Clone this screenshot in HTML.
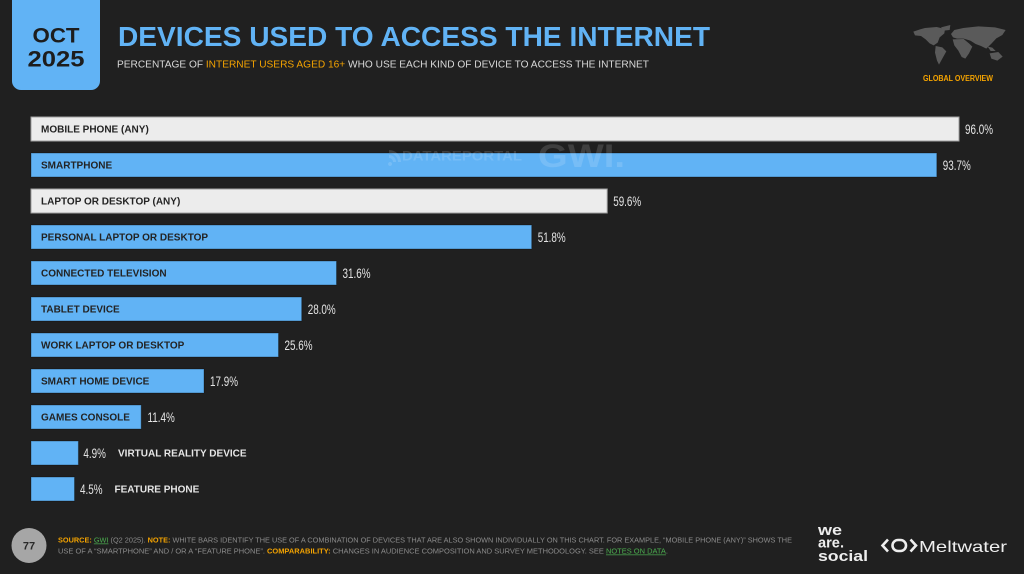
<!DOCTYPE html>
<html>
<head>
<meta charset="utf-8">
<style>
html,body{margin:0;padding:0;background:#202020;}
svg{display:block;}
text{font-family:"Liberation Sans",sans-serif;}
</style>
</head>
<body>
<svg width="1024" height="574" viewBox="0 0 1024 574" xmlns="http://www.w3.org/2000/svg">
<rect width="1024" height="574" fill="#202020"/>

<!-- Date box -->
<rect x="12" y="-12" width="88" height="102" rx="9" fill="#61b3f5"/>
<text x="56" y="42.5" text-anchor="middle" font-size="21.5" font-weight="bold" fill="#1d1d1d" textLength="47" lengthAdjust="spacingAndGlyphs">OCT</text>
<text x="56" y="66.5" text-anchor="middle" font-size="22.5" font-weight="bold" fill="#1d1d1d" textLength="57" lengthAdjust="spacingAndGlyphs">2025</text>

<!-- Title -->
<text x="118" y="46" font-size="28" font-weight="bold" fill="#61b3f5" textLength="592" lengthAdjust="spacingAndGlyphs">DEVICES USED TO ACCESS THE INTERNET</text>
<text x="117" y="67.3" font-size="10.5" fill="#d9d9d9" textLength="532" lengthAdjust="spacingAndGlyphs">PERCENTAGE OF <tspan fill="#f4a300">INTERNET USERS AGED 16+</tspan> WHO USE EACH KIND OF DEVICE TO ACCESS THE INTERNET</text>

<!-- World map -->
<g transform="translate(905,20) scale(0.3333)" fill="#5a5a5a">
  <path d="M25,35 L45,28 L60,24 L95,21 L120,27 L118,40 L104,52 L98,68 L86,76 L74,70 L62,58 L48,48 L30,46 Z"/>
  <path d="M92,78 L112,82 L124,94 L114,112 L102,134 L96,122 L90,98 Z"/>
  <path d="M108,22 L136,15 L134,30 L116,32 Z"/>
  <path d="M138,42 L148,30 L175,24 L220,19 L270,22 L302,30 L292,45 L274,55 L260,70 L244,86 L228,78 L212,72 L196,62 L176,56 L156,56 L144,52 Z"/>
  <path d="M143,58 L176,57 L192,70 L202,80 L192,100 L181,116 L170,111 L160,92 L148,76 Z"/>
  <path d="M254,100 L280,96 L293,110 L277,122 L259,116 Z"/>
  <path d="M248,80 L262,83 L272,93 L257,93 Z"/>
</g>
<text x="958" y="81" text-anchor="middle" font-size="8" font-weight="bold" fill="#f4a300" textLength="70" lengthAdjust="spacingAndGlyphs">GLOBAL OVERVIEW</text>

<!-- Bars -->
<g stroke="rgba(0,0,0,0.3)" stroke-width="1">
  <rect x="31" y="117" width="928.0" height="24" fill="#ececec" stroke="#a0a0a0"/>
  <rect x="31" y="153" width="905.8" height="24" fill="#61b3f5"/>
  <rect x="31" y="189" width="576.2" height="24" fill="#ececec" stroke="#a0a0a0"/>
  <rect x="31" y="225" width="500.7" height="24" fill="#61b3f5"/>
  <rect x="31" y="261" width="305.5" height="24" fill="#61b3f5"/>
  <rect x="31" y="297" width="270.7" height="24" fill="#61b3f5"/>
  <rect x="31" y="333" width="247.5" height="24" fill="#61b3f5"/>
  <rect x="31" y="369" width="173.0" height="24" fill="#61b3f5"/>
  <rect x="31" y="405" width="110.2" height="24" fill="#61b3f5"/>
  <rect x="31" y="441" width="47.4" height="24" fill="#61b3f5"/>
  <rect x="31" y="477" width="43.5" height="24" fill="#61b3f5"/>
</g>

<!-- Bar labels -->
<g font-size="10" font-weight="bold" fill="#232323">
  <text x="41" y="132.6">MOBILE PHONE (ANY)</text>
  <text x="41" y="168.6">SMARTPHONE</text>
  <text x="41" y="204.6">LAPTOP OR DESKTOP (ANY)</text>
  <text x="41" y="240.6">PERSONAL LAPTOP OR DESKTOP</text>
  <text x="41" y="276.6">CONNECTED TELEVISION</text>
  <text x="41" y="312.6">TABLET DEVICE</text>
  <text x="41" y="348.6">WORK LAPTOP OR DESKTOP</text>
  <text x="41" y="384.6">SMART HOME DEVICE</text>
  <text x="41" y="420.6">GAMES CONSOLE</text>
</g>
<g font-size="10" font-weight="bold" fill="#e6e6e6">
  <text x="118" y="456.6">VIRTUAL REALITY DEVICE</text>
  <text x="114.5" y="492.6">FEATURE PHONE</text>
</g>

<!-- Values -->
<g font-size="14" fill="#e4e4e4">
  <text transform="translate(965,134) scale(0.705,1)">96.0%</text>
  <text transform="translate(942.8,170) scale(0.705,1)">93.7%</text>
  <text transform="translate(613.2,206) scale(0.705,1)">59.6%</text>
  <text transform="translate(537.7,242) scale(0.705,1)">51.8%</text>
  <text transform="translate(342.5,278) scale(0.705,1)">31.6%</text>
  <text transform="translate(307.7,314) scale(0.705,1)">28.0%</text>
  <text transform="translate(284.5,350) scale(0.705,1)">25.6%</text>
  <text transform="translate(210,386) scale(0.705,1)">17.9%</text>
  <text transform="translate(147.5,422) scale(0.705,1)">11.4%</text>
  <text transform="translate(83.4,458) scale(0.705,1)">4.9%</text>
  <text transform="translate(80,494) scale(0.705,1)">4.5%</text>
</g>

<!-- Watermark -->
<g fill="#ffffff" fill-opacity="0.14" stroke="none">
  <path d="M390,162 a2,2 0 1,0 0.1,0 Z"/>
  <path d="M389,150 a12,12 0 0 1 12,12 l-3,0 a9,9 0 0 0 -9,-9 Z"/>
  <path d="M389,155 a7,7 0 0 1 7,7 l-3,0 a4,4 0 0 0 -4,-4 Z"/>
  <text x="402" y="160.5" font-size="14" font-weight="bold" textLength="120" lengthAdjust="spacingAndGlyphs">DATAREPORTAL</text>
  <text x="538" y="167" font-size="32" font-weight="bold" textLength="87" lengthAdjust="spacingAndGlyphs">GWI.</text>
</g>

<!-- Footer -->
<circle cx="29" cy="545.5" r="17.5" fill="#a6a6a6"/>
<text x="29" y="549.5" text-anchor="middle" font-size="11" font-weight="bold" fill="#2a2a2a">77</text>

<text x="58" y="542.5" font-size="7" fill="#8c8c8c" textLength="734" lengthAdjust="spacingAndGlyphs"><tspan fill="#f4a300" font-weight="bold">SOURCE: </tspan><tspan fill="#4caf50" text-decoration="underline">GWI</tspan> (Q2 2025). <tspan fill="#f4a300" font-weight="bold">NOTE: </tspan>WHITE BARS IDENTIFY THE USE OF A COMBINATION OF DEVICES THAT ARE ALSO SHOWN INDIVIDUALLY ON THIS CHART. FOR EXAMPLE, “MOBILE PHONE (ANY)” SHOWS THE</text>
<text x="58" y="553.5" font-size="7" fill="#8c8c8c" textLength="610" lengthAdjust="spacingAndGlyphs">USE OF A “SMARTPHONE” AND / OR A “FEATURE PHONE”. <tspan fill="#f4a300" font-weight="bold">COMPARABILITY: </tspan>CHANGES IN AUDIENCE COMPOSITION AND SURVEY METHODOLOGY. SEE <tspan fill="#4caf50" text-decoration="underline">NOTES ON DATA</tspan>.</text>

<!-- we are social -->
<g font-size="15" font-weight="bold" fill="#eeeeee">
  <text x="818" y="535" textLength="24" lengthAdjust="spacingAndGlyphs">we</text>
  <text x="818" y="547.5" textLength="26" lengthAdjust="spacingAndGlyphs">are<tspan>.</tspan></text>
  <text x="818" y="561" textLength="50" lengthAdjust="spacingAndGlyphs">social</text>
</g>

<!-- Meltwater -->
<g fill="none" stroke="#eeeeee" stroke-width="2.6" stroke-linejoin="miter">
  <path d="M888,539.5 L882.5,545.5 L888,551.5"/>
  <path d="M910.5,539.5 L916,545.5 L910.5,551.5"/>
  <rect x="892.5" y="540" width="13.5" height="11" rx="5.5"/>
</g>
<text x="919" y="552" font-size="16" fill="#eeeeee" textLength="88" lengthAdjust="spacingAndGlyphs">Meltwater</text>
</svg>
</body>
</html>
